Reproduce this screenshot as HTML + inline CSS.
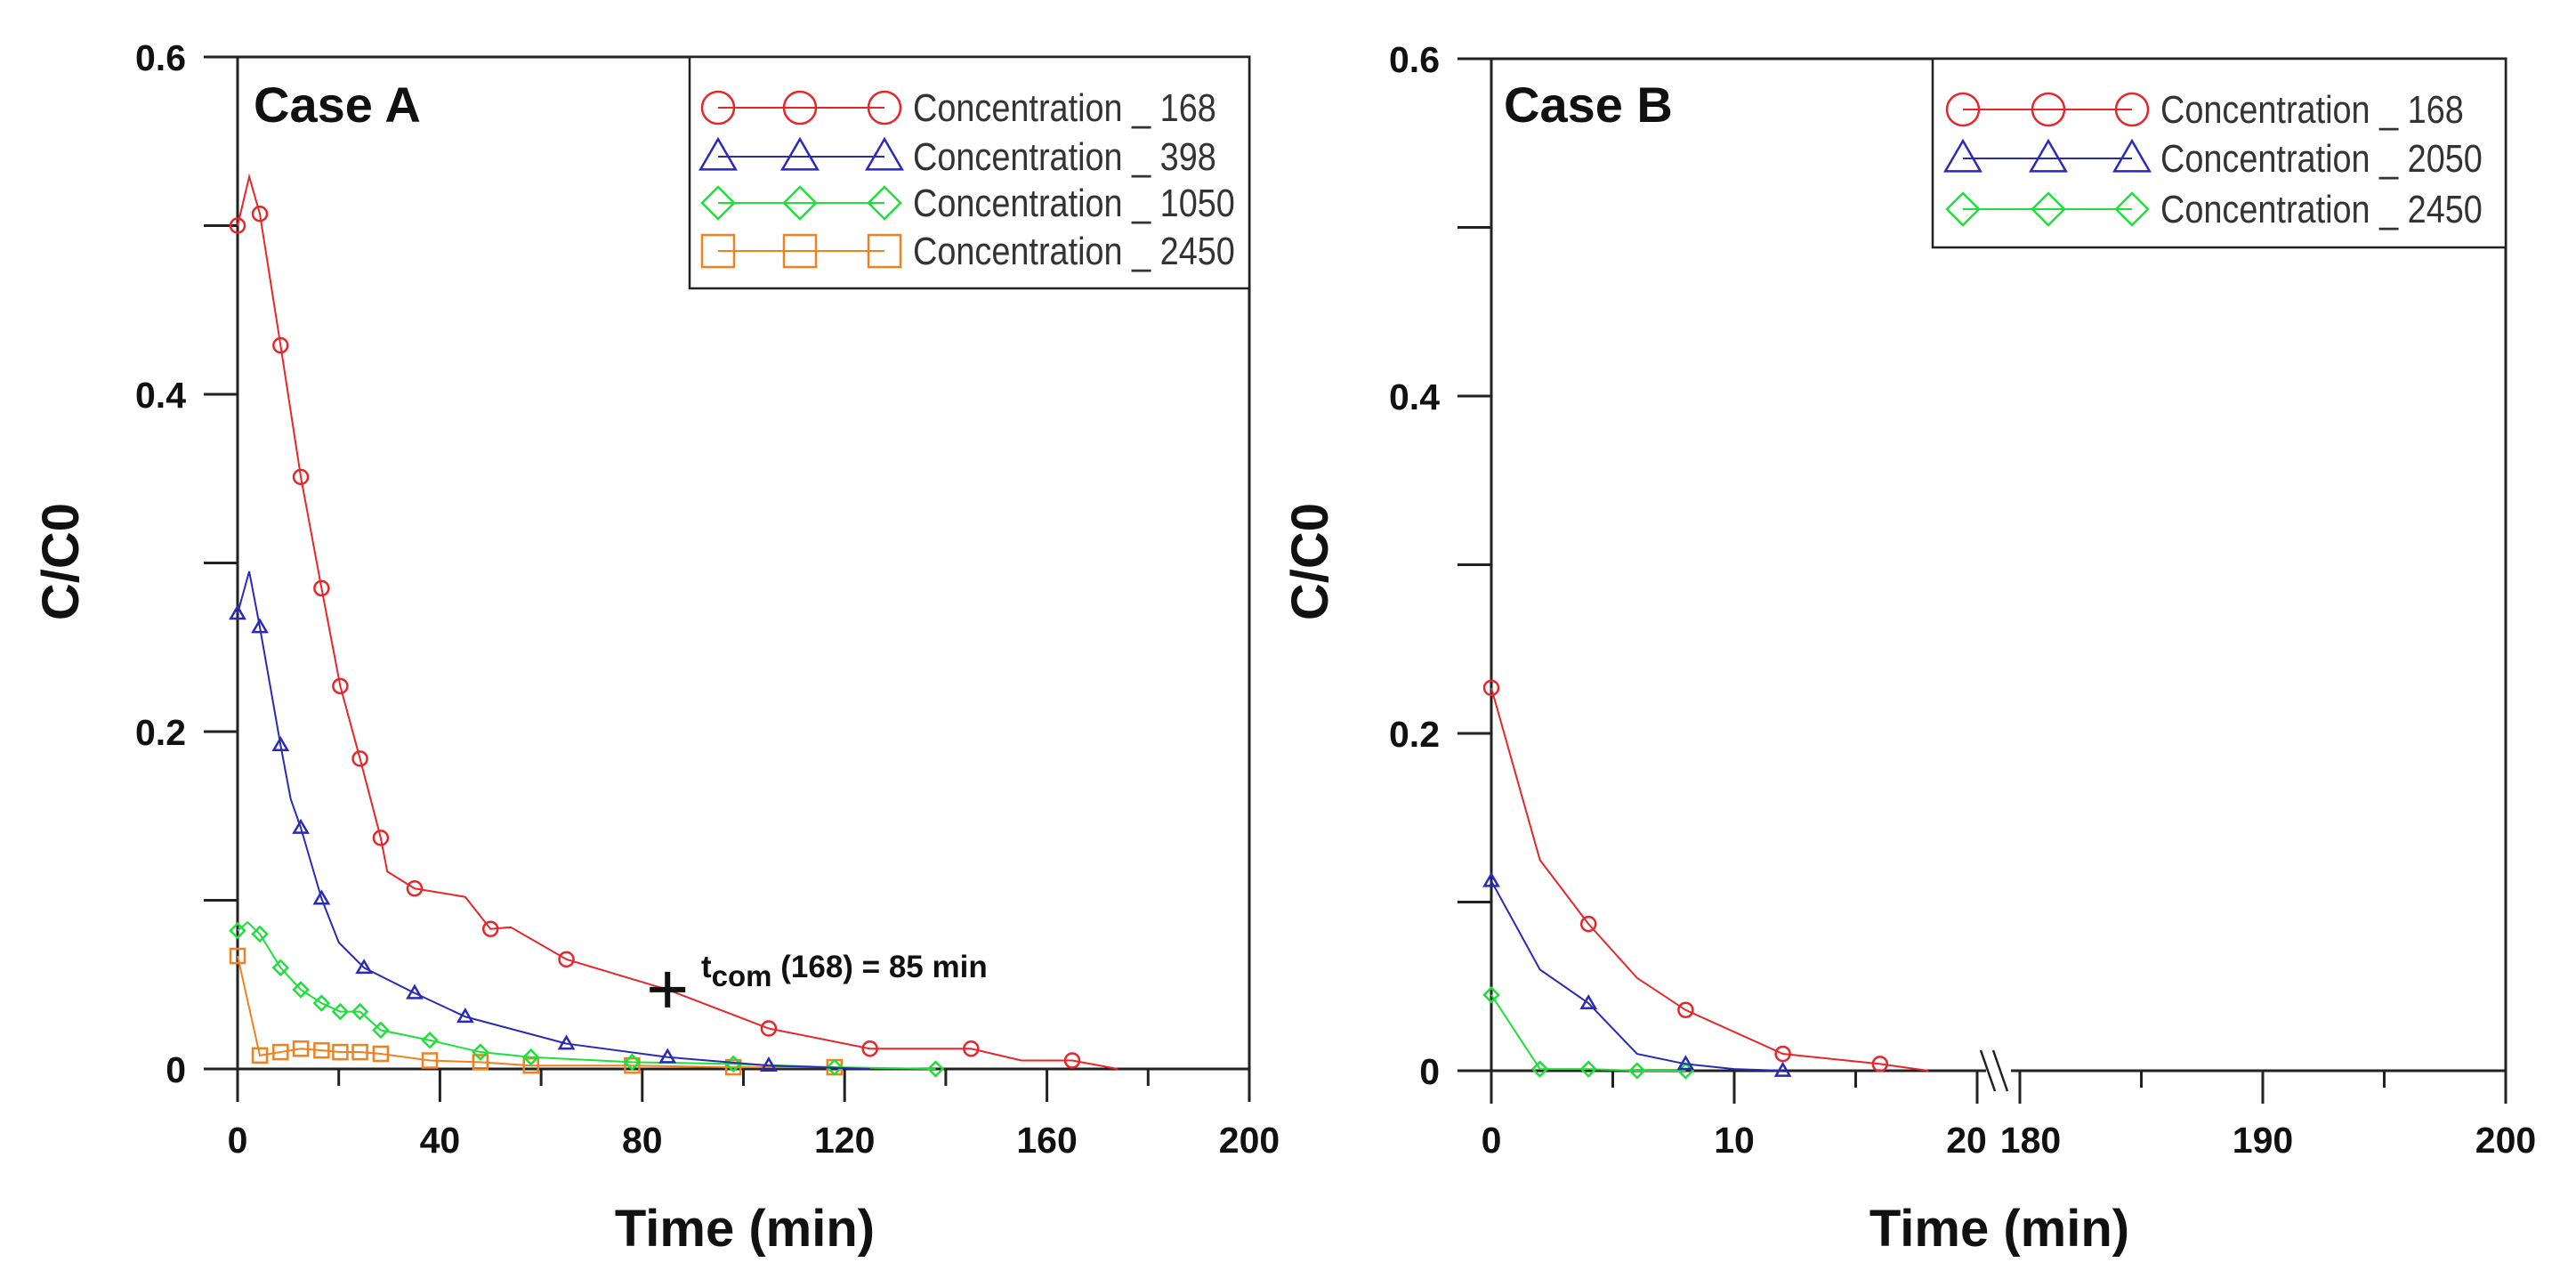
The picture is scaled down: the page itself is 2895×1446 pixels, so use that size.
<!DOCTYPE html>
<html><head><meta charset="utf-8"><style>
html,body{margin:0;padding:0;background:#fff;}
svg{display:block;font-family:"Liberation Sans",Arial,sans-serif;}
</style></head><body>
<svg id="chart" width="2895" height="1446" viewBox="0 0 2895 1446">
<g id="panelA"></g>
<g id="panelB"></g>
</svg>
<script>
// ---- Case A data ----
const aRedT = [0,2.3,4.4,8.5,12.5,16.6,20.3,24.2,28.3,29.6,35,45,50,54,65,85,105,125,145,155,165,174];
const aRedV = [0.50,0.529,0.507,0.429,0.351,0.285,0.227,0.184,0.137,0.117,0.107,0.102,0.083,0.084,0.065,0.047,0.024,0.012,0.012,0.005,0.005,0];
const aRedM = [1,0,1,1,1,1,1,1,1,0,1,0,1,0,1,0,1,1,1,0,1,0];
const aBlueT = [0,2.3,4.4,8.5,10.5,12.5,16.6,20,25,35,45,65,85,105,125];
const aBlueV = [0.27,0.295,0.262,0.192,0.16,0.143,0.101,0.075,0.06,0.045,0.031,0.015,0.007,0.002,0];
const aBlueM = [1,0,1,1,0,1,1,0,1,1,1,1,1,1,0];
const aGreenT = [0,2,4.4,8.5,12.5,16.6,20.3,24.2,28.3,38,48,58,78,98,118,138];
const aGreenV = [0.082,0.087,0.08,0.06,0.047,0.039,0.034,0.034,0.023,0.017,0.01,0.007,0.004,0.003,0.001,0];
const aGreenM = [1,0,1,1,1,1,1,1,1,1,1,1,1,1,1,1];
const aOrT = [0,4.4,8.5,12.5,16.6,20.3,24.2,28.3,38,48,58,78,98,118];
const aOrV = [0.067,0.008,0.01,0.012,0.011,0.01,0.01,0.009,0.005,0.004,0.002,0.002,0.001,0.001];
// ---- Case B data ----
const bRedT = [0,2,4,6,8,12,16,18];
const bRedV = [0.227,0.125,0.087,0.055,0.036,0.010,0.004,0];
const bRedM = [1,0,1,0,1,1,1,0];
const bBlueT = [0,2,4,6,8,10,12];
const bBlueV = [0.1125,0.060,0.040,0.010,0.004,0.001,0];
const bBlueM = [1,0,1,0,1,0,1];
const bGreenT = [0,2,4,6,8];
const bGreenV = [0.045,0.001,0.001,0,0];
const yTicks = [0,0.2,0.4,0.6];
const yTickLabels = ["0","0.2","0.4","0.6"];
const aXTicks = [0,40,80,120,160,200];
const bXTicksLow = [0,10,20];
const bXTicksHigh = [180,190,200];

const NS="http://www.w3.org/2000/svg";
function mk(parent,tag,attrs,txt){const e=document.createElementNS(NS,tag);for(const k in attrs)e.setAttribute(k,attrs[k]);if(txt!==undefined)e.textContent=txt;parent.appendChild(e);return e;}
const COL={red:"#e8262a",blue:"#2a2ab8",green:"#1fe03a",orange:"#f08020"};

function marker(g,type,x,y,r,col,name){
  let e;
  if(type==="circle") e=mk(g,"circle",{cx:x,cy:y,r:r,fill:"none",stroke:col,"stroke-width":2.5});
  else if(type==="tri") e=mk(g,"polygon",{points:`${x},${y-r*1.1} ${x-r*1.1},${y+r*0.8} ${x+r*1.1},${y+r*0.8}`,fill:"none",stroke:col,"stroke-width":2.5});
  else if(type==="diamond") e=mk(g,"polygon",{points:`${x},${y-r} ${x+r},${y} ${x},${y+r} ${x-r},${y}`,fill:"none",stroke:col,"stroke-width":2.5});
  else e=mk(g,"rect",{x:x-r,y:y-r,width:2*r,height:2*r,fill:"none",stroke:col,"stroke-width":2.5});
  
  
}
function series(g,xs,ys,ts,vs,ms,type,col,name,r){
  const sg=mk(g,"g",{});
  
  
  const pts=ts.map((t,i)=>xs(t)+","+ys(vs[i])).join(" ");
  const pl=mk(sg,"polyline",{points:pts,fill:"none",stroke:col,"stroke-width":2});
  
  
  ts.forEach((t,i)=>{ if(!ms||ms[i]) marker(sg,type,xs(t),ys(vs[i]),r||8,col,name+'-point'); });
}
function txt(g,x,y,s,size,weight,anchor,name,extra){
  const e=mk(g,"text",Object.assign({x:x,y:y,"font-size":size,"font-weight":weight,"text-anchor":anchor,fill:"#111"},extra||{}),s);
  
  
  return e;
}
function yAxis(g,L,T,R,B,ys){
  const fr=mk(g,"rect",{x:L,y:T,width:R-L,height:B-T,fill:"none",stroke:"#222","stroke-width":3});
  
  
  for(let v=0;v<=0.6001;v+=0.1){
    const y=ys(v);
    mk(g,"line",{x1:L-38,y1:y,x2:L,y2:y,stroke:"#222","stroke-width":3});
  }
  yTicks.forEach((v,i)=>txt(g,L-58,ys(v)+15,yTickLabels[i],41,"bold","end","y-tick-label"));
}
function legend(g,x0,y0,w,h,rows,mx,tx,rowY){
  const lg=mk(g,"g",{});
  
  
  mk(lg,"rect",{x:x0,y:y0,width:w,height:h,fill:"#fff",stroke:"#222","stroke-width":2.5});
  rows.forEach((r,i)=>{
    const y=rowY[i];
    const e=mk(lg,"g",{});
    
    
    mk(e,"line",{x1:mx[0],y1:y,x2:mx[2],y2:y,stroke:r.col,"stroke-width":2});
    mx.forEach(x=>marker(e,r.type,x,y,18,r.col,'legend-marker'));
    const t=txt(e,tx,y+15,r.label,44,"normal","start","legend-label",{fill:"#333"});
    const len=t.getComputedTextLength();
    t.setAttribute("textLength",len*0.86);
    t.setAttribute("lengthAdjust","spacingAndGlyphs");
  });
}

// ---- Panel A ----
(function(){
  const g=document.getElementById("panelA");
  const L=267,R=1404,T=64,B=1201;
  const xs=t=>L+(R-L)*t/200, ys=v=>B-(B-T)*v/0.6;
  yAxis(g,L,T,R,B,ys);
  for(let t=0;t<=200;t+=20){const maj=t%40===0;mk(g,"line",{x1:xs(t),y1:B,x2:xs(t),y2:B+(maj?37:19),stroke:"#222","stroke-width":3});}
  aXTicks.forEach(t=>txt(g,xs(t),1295,String(t),41,"bold","middle","x-tick-label"));
  txt(g,837,1400,"Time (min)",58,"bold","middle","x-axis-title");
  txt(g,88,631,"C/C0",58,"bold","middle","y-axis-title",{transform:"rotate(-90 88 631)"});
  txt(g,285,137,"Case A",56,"bold","start","panel-title");
  series(g,xs,ys,aOrT,aOrV,null,"square",COL.orange,"series-2450",8);
  series(g,xs,ys,aGreenT,aGreenV,aGreenM,"diamond",COL.green,"series-1050",8);
  series(g,xs,ys,aBlueT,aBlueV,aBlueM,"tri",COL.blue,"series-398",7);
  series(g,xs,ys,aRedT,aRedV,aRedM,"circle",COL.red,"series-168",8);
  const px=xs(85),py=ys(0.047);
  const pl=mk(g,"path",{d:`M${px-20},${py}H${px+20}M${px},${py-20}V${py+20}`,stroke:"#111","stroke-width":6});
  
  
  const a=txt(g,788,1098,"",35,"bold","start","tcom-annotation");
  mk(a,"tspan",{},"t");
  mk(a,"tspan",{dy:10,"font-size":33},"com");
  mk(a,"tspan",{dy:-10},"\u00a0(168) = 85 min");
  legend(g,775,64,629,260,[
    {label:"Concentration _ 168",col:COL.red,type:"circle"},
    {label:"Concentration _ 398",col:COL.blue,type:"tri"},
    {label:"Concentration _ 1050",col:COL.green,type:"diamond"},
    {label:"Concentration _ 2450",col:COL.orange,type:"square"}],[807,899,994],1026,[121,176,228,282]);
})();

// ---- Panel B ----
(function(){
  const g=document.getElementById("panelB");
  const L=1676,R=2816,T=66,B=1203;
  const xLo=t=>L+(2222-L)*t/20, xHi=t=>2270+(R-2270)*(t-180)/20;
  const ys=v=>B-(B-T)*v/0.6;
  yAxis(g,L,T,R,B,ys);
  [0,5,10,15,20].forEach(t=>mk(g,"line",{x1:xLo(t),y1:B,x2:xLo(t),y2:B+(t%10===0?37:19),stroke:"#222","stroke-width":3}));
  [180,185,190,195,200].forEach(t=>mk(g,"line",{x1:xHi(t),y1:B,x2:xHi(t),y2:B+(t%10===0?37:19),stroke:"#222","stroke-width":3}));
  mk(g,"rect",{x:2232,y:B-6,width:28,height:12,fill:"#fff"});
  const br=mk(g,"path",{d:`M2226,1180L2242,1226M2240,1180L2256,1226`,stroke:"#222","stroke-width":2.5,fill:"none"});
  
  
  bXTicksLow.forEach(t=>txt(g,xLo(t)+(t===20?-12:0),1295,String(t),41,"bold","middle","x-tick-label"));
  bXTicksHigh.forEach(t=>txt(g,xHi(t)+(t===180?12:0),1295,String(t),41,"bold","middle","x-tick-label"));
  txt(g,2247,1400,"Time (min)",58,"bold","middle","x-axis-title");
  txt(g,1492,631,"C/C0",58,"bold","middle","y-axis-title",{transform:"rotate(-90 1492 631)"});
  txt(g,1690,137,"Case B",56,"bold","start","panel-title");
  series(g,xLo,ys,bGreenT,bGreenV,null,"diamond",COL.green,"series-2450",8);
  series(g,xLo,ys,bBlueT,bBlueV,bBlueM,"tri",COL.blue,"series-2050",7);
  series(g,xLo,ys,bRedT,bRedV,bRedM,"circle",COL.red,"series-168",8);
  legend(g,2172,66,644,212,[
    {label:"Concentration _ 168",col:COL.red,type:"circle"},
    {label:"Concentration _ 2050",col:COL.blue,type:"tri"},
    {label:"Concentration _ 2450",col:COL.green,type:"diamond"}],[2206,2302,2396],2428,[123,178,235]);
})();
</script>
</body></html>
